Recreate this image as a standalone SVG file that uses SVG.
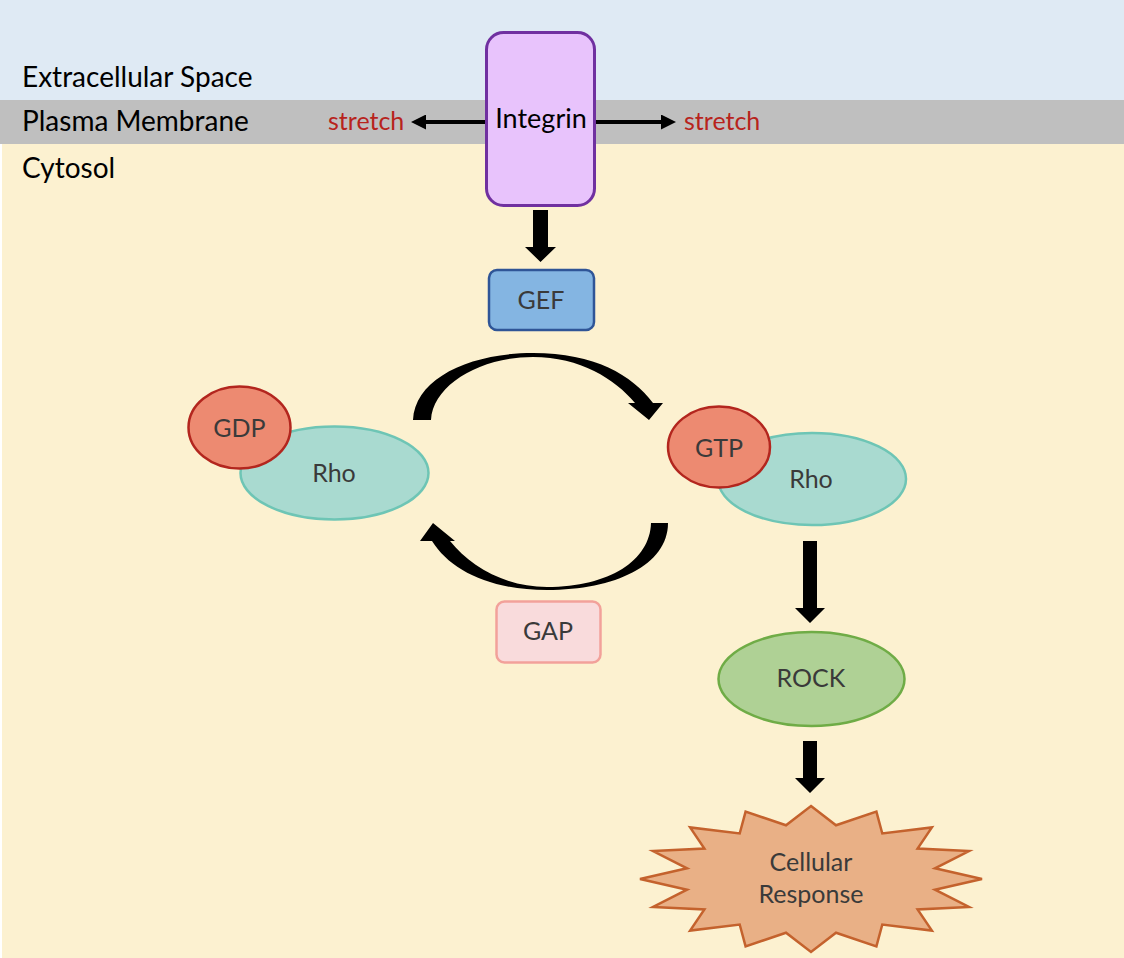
<svg xmlns="http://www.w3.org/2000/svg" width="1124" height="958" viewBox="0 0 1124 958">
<style>
  .band { font-family: Lato, "Liberation Sans", sans-serif; font-size: 28px; fill: #000; }
  .lbl { font-family: Lato, "Liberation Sans", sans-serif; font-size: 25px; fill: #3a3a3a; text-anchor: middle; }
  .stretch { font-family: Lato, "Liberation Sans", sans-serif; font-size: 25px; fill: #b8231c; }
  .rho { fill: #a9dad0; stroke: #6ec5b5; stroke-width: 2.5; }
  .nuc { fill: #ed8a71; stroke: #b3261e; stroke-width: 2.5; }
  .blk { fill: #000; }
</style>
<defs>
  <marker id="ah" markerUnits="userSpaceOnUse" markerWidth="15" markerHeight="15" viewBox="0 0 15 15" refX="6" refY="7.5" orient="auto">
    <path d="M0,0 L15,7.5 L0,15 Z" fill="#000"/>
  </marker>
</defs>

<g id="background">
  <rect x="0" y="0" width="1124" height="100" fill="#dfeaf4"/>
  <rect x="0" y="100" width="1124" height="44" fill="#bfbfbf"/>
  <rect x="0" y="144" width="1124" height="814" fill="#ffffff"/>
  <rect x="2" y="144" width="1122" height="814" fill="#fcf1d0"/>
  <text class="band" x="22" y="87">Extracellular Space</text>
  <text class="band" x="22" y="131">Plasma Membrane</text>
  <text class="band" x="22" y="178">Cytosol</text>
</g>

<g id="connectors">
  <line x1="486" y1="122" x2="420" y2="122" stroke="#000" stroke-width="4" marker-end="url(#ah)"/>
  <line x1="596" y1="122" x2="667" y2="122" stroke="#000" stroke-width="4" marker-end="url(#ah)"/>
  <polygon class="blk" points="533,210 548,210 548,247 556,247 540.5,262 525,247 533,247"/>
  <polygon class="blk" points="803,541 817,541 817,608 825,608 810,623 795,608 803,608"/>
  <polygon class="blk" points="803,741 817,741 817,778 825,778 810,793 795,778 803,778"/>
  <path class="blk" d="M413,420 C415,378 470,353 533,353 C595,353 632,375 653,403 L663,403 L649,420 L628,403 L635,403 C615,379 580,357 533,357 C480,357 433,385 431,420 Z"/>
  <path class="blk" d="M668,523 C668,565 615,590 547,590 C490,590 450,570 432,541 L420,541 L433,523 L455,541 L450,541 C470,566 505,587 547,587 C610,587 650,560 651,523 Z"/>
</g>

<g id="integrin">
  <rect x="486.5" y="32.5" width="108" height="173" rx="17" fill="#e8c3fc" stroke="#7030a0" stroke-width="3"/>
  <text x="541" y="128" text-anchor="middle" style="font-family: Lato, 'Liberation Sans', sans-serif; font-size: 27px; fill: #000;">Integrin</text>
</g>

<g id="stretch-left">
  <text class="stretch" x="328" y="130">stretch</text>
</g>
<g id="stretch-right">
  <text class="stretch" x="684" y="130">stretch</text>
</g>

<g id="gef">
  <rect x="489" y="270" width="105" height="60" rx="8" fill="#84b5e2" stroke="#2f5597" stroke-width="2.5"/>
  <text class="lbl" x="541" y="309">GEF</text>
</g>

<g id="rho-gdp">
  <ellipse class="rho" cx="334.5" cy="473" rx="94" ry="46.5"/>
  <ellipse class="nuc" cx="239.5" cy="427.5" rx="51" ry="41"/>
  <text class="lbl" x="239.5" y="437">GDP</text>
  <text class="lbl" x="334" y="482">Rho</text>
</g>

<g id="rho-gtp">
  <ellipse class="rho" cx="812" cy="479" rx="94" ry="46"/>
  <ellipse class="nuc" cx="719" cy="447" rx="51" ry="40.5"/>
  <text class="lbl" x="719" y="457">GTP</text>
  <text class="lbl" x="811" y="488">Rho</text>
</g>

<g id="gap">
  <rect x="496.5" y="601.5" width="104" height="61" rx="8" fill="#f9dbdc" stroke="#f2a19a" stroke-width="2.5"/>
  <text class="lbl" x="548" y="640">GAP</text>
</g>

<g id="rock">
  <ellipse cx="811.5" cy="679" rx="93" ry="47" fill="#afd195" stroke="#6fac46" stroke-width="2.5"/>
  <text class="lbl" x="811" y="687">ROCK</text>
</g>

<g id="cellular-response">
  <polygon fill="#e9b086" stroke="#c4622d" stroke-width="2.5" stroke-linejoin="miter" points="811,806 836,825.3 876.4,811.6 882.3,833.5 931.9,827.4 917.6,848.6 969,851.1 935,868.3 982,879 935,889.7 969,906.9 917.6,909.4 931.9,930.6 882.3,924.5 876.4,946.4 836,932.7 811,952 786,932.7 745.6,946.4 739.7,924.5 690.1,930.6 704.4,909.4 653,906.9 687,889.7 640,879 687,868.3 653,851.1 704.4,848.6 690.1,827.4 739.7,833.5 745.6,811.6 786,825.3"/>
  <text class="lbl" x="811" y="871">Cellular</text>
  <text class="lbl" x="811" y="903">Response</text>
</g>
</svg>
